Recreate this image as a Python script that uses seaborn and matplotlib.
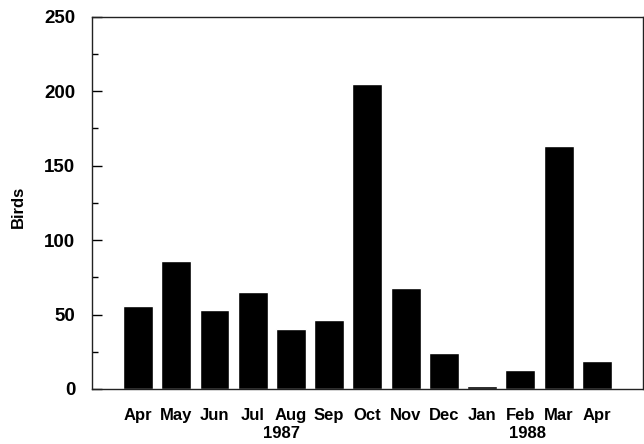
import matplotlib
matplotlib.use("Agg")
import matplotlib.pyplot as plt
import seaborn as sns
import pandas as pd
from matplotlib.ticker import MultipleLocator

months = ["Apr", "May", "Jun", "Jul", "Aug", "Sep", "Oct", "Nov", "Dec", "Jan", "Feb", "Mar", "Apr"]
birds = [56, 86, 53, 65, 40, 46, 205, 68, 24, 2, 13, 163, 19]
years = ["1987", "1988"]

sns.set_theme(style="ticks", rc={"text.color": "black", "axes.labelcolor": "black",
                                 "xtick.color": "black", "ytick.color": "black",
                                 "axes.edgecolor": "#222222"})
plt.rcParams['font.family'] = ['Liberation Sans', 'DejaVu Sans']

df = pd.DataFrame({"idx": list(range(len(months))), "Birds": birds})

fig = plt.figure(figsize=(6.44, 4.44), dpi=100)
ax = fig.add_axes([0.143, 0.124, 0.855, 0.838])
sns.barplot(data=df, x="idx", y="Birds", color="black", width=0.78,
            saturation=1, ax=ax, native_scale=False)
ax.set_xlim(-1.2, 13.2)
ax.set_ylim(0, 250)
ax.set_xticks(range(len(months)))
ax.set_xticklabels(months, fontsize=12, fontweight="bold")
ax.yaxis.set_major_locator(MultipleLocator(50))
ax.yaxis.set_minor_locator(MultipleLocator(25))
ax.tick_params(axis="y", which="major", direction="in", length=7, width=1, labelsize=13.5, pad=12)
ax.tick_params(axis="y", which="minor", direction="in", length=4, width=1)
ax.tick_params(axis="x", length=0, pad=14)
for lab in ax.get_yticklabels():
    lab.set_fontweight("bold")
ax.set_xlabel("")
ax.set_ylabel("Birds", fontsize=12, fontweight="bold")
ax.yaxis.set_label_coords(-0.12, 0.49)
for s in ax.spines.values():
    s.set_linewidth(1.0)

ax.text(3.75, -0.1, years[0], transform=ax.get_xaxis_transform(),
        ha="center", va="top", fontsize=12, fontweight="bold")
ax.text(10.2, -0.1, years[1], transform=ax.get_xaxis_transform(),
        ha="center", va="top", fontsize=12, fontweight="bold")

fig.savefig("out.png", dpi=100)
